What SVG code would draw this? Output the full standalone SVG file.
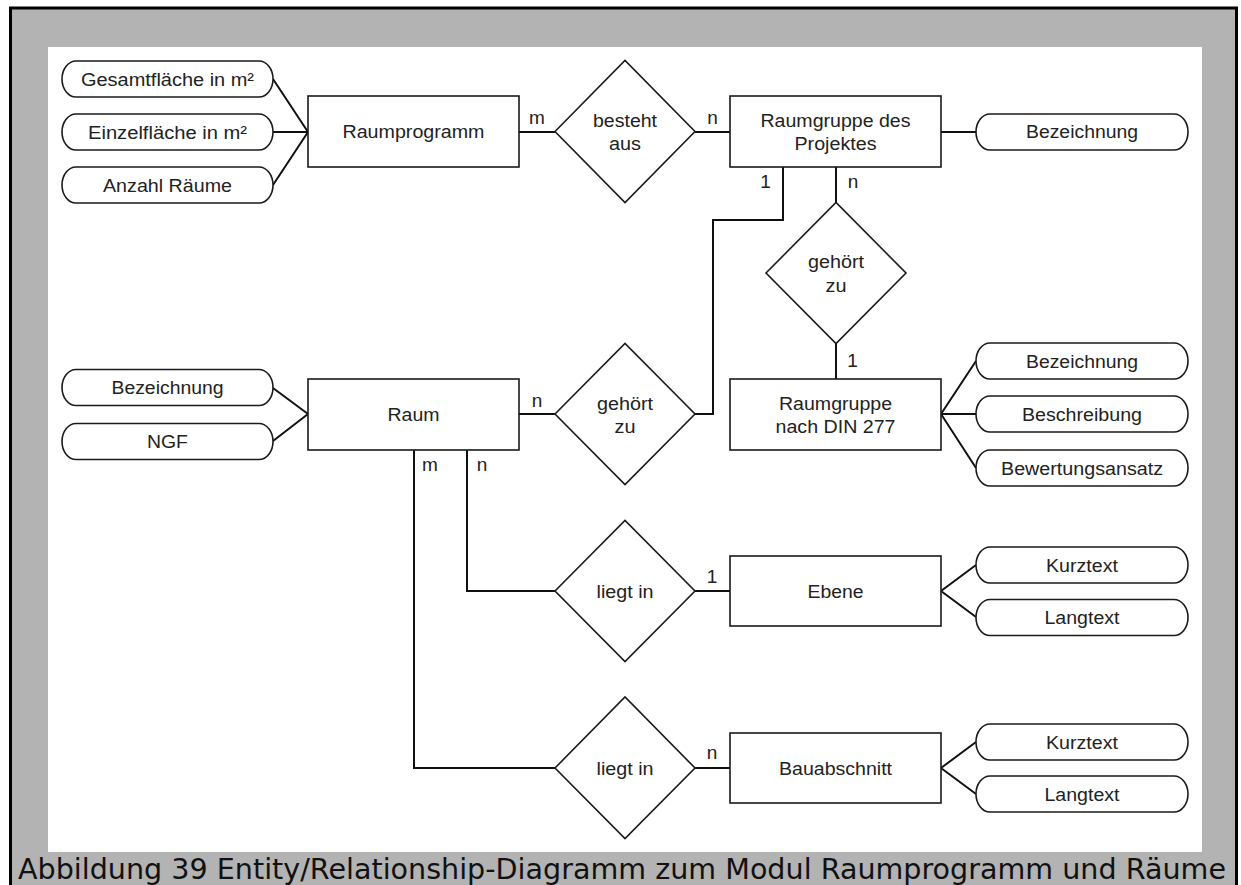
<svg xmlns="http://www.w3.org/2000/svg" width="1241" height="885" viewBox="0 0 1241 885">
  <style>
    .ent { fill: #ffffff; stroke: #1a1a1a; stroke-width: 1.6; }
    .rel { fill: #ffffff; stroke: #1a1a1a; stroke-width: 1.6; }
    .attr { fill: #ffffff; stroke: #1a1a1a; stroke-width: 1.6; }
    .conn { fill: none; stroke: #111111; stroke-width: 2; }
    .t { font-family: "Liberation Sans", Arial, sans-serif; font-size: 17.5px; fill: #222222; text-anchor: middle; }
    .card { font-family: "Liberation Sans", Arial, sans-serif; font-size: 19px; fill: #222222; text-anchor: middle; }
    .caption { font-family: "DejaVu Sans", "Noto Sans", sans-serif; font-size: 28px; fill: #111111; }
  </style>

  <!-- frame -->
  <rect x="0" y="0" width="1241" height="885" fill="#ffffff"/>
  <rect x="10.5" y="8" width="1226" height="900" fill="#b3b3b3" stroke="#000000" stroke-width="3"/>
  <rect x="48" y="47" width="1154" height="805" fill="#ffffff"/>

  <!-- connectors -->
  <g id="connectors" class="conn">
    <path d="M308,132 L273,79 M308,132 L273,132 M308,132 L273,185"/>
    <path d="M519,132 H555 M695,132 H730"/>
    <path d="M941,132 H976"/>
    <path d="M783,167 V220 H713 V414 H695"/>
    <path d="M836,167 V202 M836,344 V379"/>
    <path d="M519,414 H555"/>
    <path d="M308,414 L273,388 M308,414 L273,441"/>
    <path d="M941,414 L976,361 M941,414 H976 M941,414 L976,468"/>
    <path d="M467,450 V591 H555 M414,450 V768 H555"/>
    <path d="M695,591 H730 M695,768 H730"/>
    <path d="M941,591 L976,565 M941,591 L976,617"/>
    <path d="M941,768 L976,742 M941,768 L976,794"/>
  </g>

  <!-- cardinalities -->
  <g id="cardinalities" class="card">
    <text x="537" y="124">m</text>
    <text x="712.5" y="124">n</text>
    <text x="765.5" y="188">1</text>
    <text x="853" y="188">n</text>
    <text x="852.5" y="367">1</text>
    <text x="537" y="407">n</text>
    <text x="430" y="471">m</text>
    <text x="482" y="471">n</text>
    <text x="712" y="583">1</text>
    <text x="712" y="759">n</text>
  </g>

  <!-- entities -->
  <g id="raumprogramm">
    <rect class="ent" x="308" y="96" width="211" height="71"/>
    <text class="t" x="413.5" y="138" textLength="142" lengthAdjust="spacingAndGlyphs">Raumprogramm</text>
  </g>
  <g id="raumgruppe-projekt">
    <rect class="ent" x="730" y="96" width="211" height="71"/>
    <text class="t" x="835.5" y="126.5" textLength="150" lengthAdjust="spacingAndGlyphs">Raumgruppe des</text>
    <text class="t" x="835.5" y="149.5" textLength="82" lengthAdjust="spacingAndGlyphs">Projektes</text>
  </g>
  <g id="raum">
    <rect class="ent" x="308" y="379" width="211" height="71"/>
    <text class="t" x="413.5" y="420.5" textLength="52" lengthAdjust="spacingAndGlyphs">Raum</text>
  </g>
  <g id="raumgruppe-din">
    <rect class="ent" x="730" y="379" width="211" height="71"/>
    <text class="t" x="835.5" y="409.5" textLength="113" lengthAdjust="spacingAndGlyphs">Raumgruppe</text>
    <text class="t" x="835.5" y="432.5" textLength="120" lengthAdjust="spacingAndGlyphs">nach DIN 277</text>
  </g>
  <g id="ebene">
    <rect class="ent" x="730" y="556" width="211" height="70"/>
    <text class="t" x="835.5" y="597.5" textLength="56" lengthAdjust="spacingAndGlyphs">Ebene</text>
  </g>
  <g id="bauabschnitt">
    <rect class="ent" x="730" y="733" width="211" height="70"/>
    <text class="t" x="835.5" y="774.5" textLength="113" lengthAdjust="spacingAndGlyphs">Bauabschnitt</text>
  </g>

  <!-- relationships -->
  <g id="besteht-aus">
    <polygon class="rel" points="555,131.5 625,60.5 695,131.5 625,202.5"/>
    <text class="t" x="625" y="126.5" textLength="64" lengthAdjust="spacingAndGlyphs">besteht</text>
    <text class="t" x="625" y="150" textLength="32" lengthAdjust="spacingAndGlyphs">aus</text>
  </g>
  <g id="gehoert-zu-din">
    <polygon class="rel" points="766,273 836,202.5 906,273 836,343.5"/>
    <text class="t" x="836" y="268" textLength="56" lengthAdjust="spacingAndGlyphs">gehört</text>
    <text class="t" x="836" y="291.5" textLength="21" lengthAdjust="spacingAndGlyphs">zu</text>
  </g>
  <g id="gehoert-zu-projekt">
    <polygon class="rel" points="555,414 625,343.5 695,414 625,484.5"/>
    <text class="t" x="625" y="409.5" textLength="56" lengthAdjust="spacingAndGlyphs">gehört</text>
    <text class="t" x="625" y="432.5" textLength="21" lengthAdjust="spacingAndGlyphs">zu</text>
  </g>
  <g id="liegt-in-ebene">
    <polygon class="rel" points="555,591 625,520.5 695,591 625,661.5"/>
    <text class="t" x="625" y="597.5" textLength="57" lengthAdjust="spacingAndGlyphs">liegt in</text>
  </g>
  <g id="liegt-in-bauabschnitt">
    <polygon class="rel" points="555,768 625,697 695,768 625,838.5"/>
    <text class="t" x="625" y="774.5" textLength="57" lengthAdjust="spacingAndGlyphs">liegt in</text>
  </g>

  <!-- attributes -->
  <g id="attr-gesamtflaeche">
    <rect class="attr" x="62" y="61" width="211" height="36" rx="14" ry="18"/>
    <text class="t" x="167.5" y="85.5" textLength="173" lengthAdjust="spacingAndGlyphs">Gesamtfläche in m²</text>
  </g>
  <g id="attr-einzelflaeche">
    <rect class="attr" x="62" y="114" width="211" height="36" rx="14" ry="18"/>
    <text class="t" x="167.5" y="138.5" textLength="159" lengthAdjust="spacingAndGlyphs">Einzelfläche in m²</text>
  </g>
  <g id="attr-anzahl-raeume">
    <rect class="attr" x="62" y="167" width="211" height="36" rx="14" ry="18"/>
    <text class="t" x="167.5" y="191.5" textLength="129" lengthAdjust="spacingAndGlyphs">Anzahl Räume</text>
  </g>
  <g id="attr-projekt-bezeichnung">
    <rect class="attr" x="976" y="114" width="212" height="36" rx="14" ry="18"/>
    <text class="t" x="1082" y="138" textLength="112" lengthAdjust="spacingAndGlyphs">Bezeichnung</text>
  </g>
  <g id="attr-raum-bezeichnung">
    <rect class="attr" x="62" y="369.5" width="211" height="36" rx="14" ry="18"/>
    <text class="t" x="167.5" y="394" textLength="112" lengthAdjust="spacingAndGlyphs">Bezeichnung</text>
  </g>
  <g id="attr-raum-ngf">
    <rect class="attr" x="62" y="423.5" width="211" height="36" rx="14" ry="18"/>
    <text class="t" x="167.5" y="448" textLength="41" lengthAdjust="spacingAndGlyphs">NGF</text>
  </g>
  <g id="attr-din-bezeichnung">
    <rect class="attr" x="976" y="343" width="212" height="36" rx="14" ry="18"/>
    <text class="t" x="1082" y="367.5" textLength="112" lengthAdjust="spacingAndGlyphs">Bezeichnung</text>
  </g>
  <g id="attr-din-beschreibung">
    <rect class="attr" x="976" y="396" width="212" height="36" rx="14" ry="18"/>
    <text class="t" x="1082" y="420.5" textLength="120" lengthAdjust="spacingAndGlyphs">Beschreibung</text>
  </g>
  <g id="attr-din-bewertung">
    <rect class="attr" x="976" y="450" width="212" height="36" rx="14" ry="18"/>
    <text class="t" x="1082" y="474.5" textLength="162" lengthAdjust="spacingAndGlyphs">Bewertungsansatz</text>
  </g>
  <g id="attr-ebene-kurztext">
    <rect class="attr" x="976" y="547" width="212" height="36" rx="14" ry="18"/>
    <text class="t" x="1082" y="571.5" textLength="72" lengthAdjust="spacingAndGlyphs">Kurztext</text>
  </g>
  <g id="attr-ebene-langtext">
    <rect class="attr" x="976" y="599.5" width="212" height="36" rx="14" ry="18"/>
    <text class="t" x="1082" y="624" textLength="75" lengthAdjust="spacingAndGlyphs">Langtext</text>
  </g>
  <g id="attr-bau-kurztext">
    <rect class="attr" x="976" y="724" width="212" height="36" rx="14" ry="18"/>
    <text class="t" x="1082" y="748.5" textLength="72" lengthAdjust="spacingAndGlyphs">Kurztext</text>
  </g>
  <g id="attr-bau-langtext">
    <rect class="attr" x="976" y="776" width="212" height="36" rx="14" ry="18"/>
    <text class="t" x="1082" y="800.5" textLength="75" lengthAdjust="spacingAndGlyphs">Langtext</text>
  </g>

  <!-- caption -->
  <text class="caption" x="18" y="879" textLength="1208" lengthAdjust="spacingAndGlyphs">Abbildung 39 Entity/Relationship-Diagramm zum Modul Raumprogramm und Räume</text>
</svg>
